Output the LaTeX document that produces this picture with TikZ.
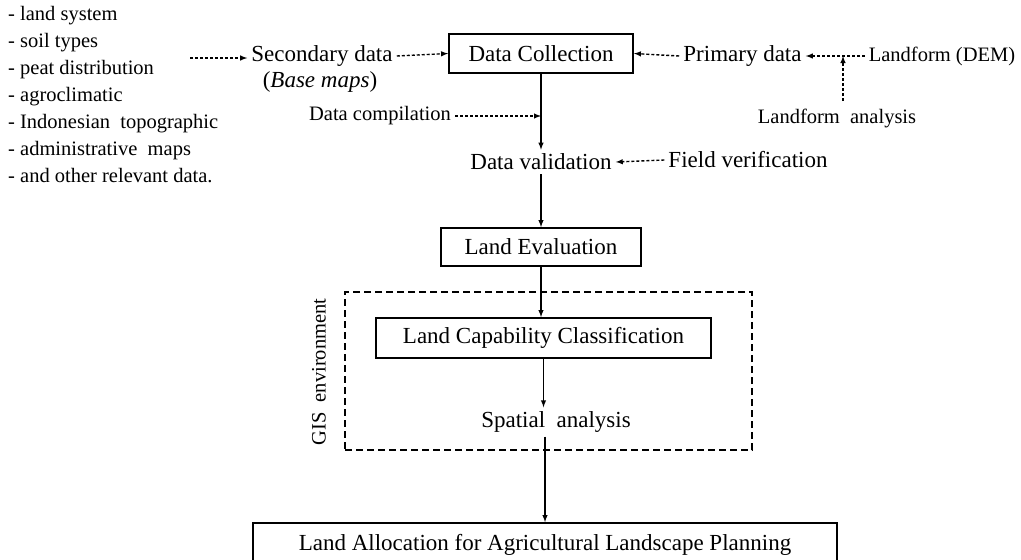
\documentclass[tikz,border=0pt]{standalone}
\usepackage{fontspec}
\setmainfont{Liberation Serif}
\usetikzlibrary{positioning}

\newcommand{\mainsize}{\fontsize{23}{27}\selectfont}
\newcommand{\smallsize}{\fontsize{20.5}{27}\selectfont}

\begin{document}
\begin{tikzpicture}[x=1pt,y=-1pt,
	box/.style={draw,line width=1.8pt,inner sep=0pt,font=\mainsize},
	txt/.style={inner sep=4pt,font=\mainsize},
	stxt/.style={inner sep=4pt,font=\smallsize},
	dasharrow/.style={line width=1.4pt,dash pattern=on 3pt off 2pt,-latex},
	solidarrow/.style={line width=1.4pt,-latex}]
	\useasboundingbox (0,0) rectangle (1021,560);

	% input data
	\node[stxt,align=left,anchor=north west,inner sep=0pt] (list) at (8,6)
		{- land system\\- soil types\\- peat distribution\\- agroclimatic\\- Indonesian\ \ topographic\\- administrative\ \ maps\\- and other relevant data.};
	\coordinate (lstart) at (190,58);

	\node[txt] (sec) at (322,56) {Secondary data};
	\node[txt] (base) at (320,82) {(\textit{Base maps})};

	\node[box,minimum width=184,minimum height=39] (coll) at (541,53.5) {Data Collection};

	\node[txt] (prim) at (742.5,56) {Primary data};
	\node[stxt] (dem) at (942,56) {Landform (DEM)};
	\node[stxt] (lfa) at (837,118) {Landform\ \ analysis};
	\coordinate (lfatop) at (843,101);

	\draw[dasharrow] (lstart) -- (lstart -| sec.west);
	\draw[dasharrow] (sec.east) -- (coll.west);
	\draw[dasharrow] (prim.west) -- (coll.east);
	\draw[dasharrow] (dem.west) -- (prim.east);
	\draw[dasharrow] (lfatop) -- (lfatop |- prim.east);

	% validation
	\node[stxt] (comp) at (380,116) {Data compilation};
	\node[txt] (val) at (541,162) {Data validation};
	\node[txt] (fv) at (748,160) {Field verification};

	\draw[solidarrow] (coll.south) -- (val.north);
	\draw[dasharrow] (comp.east) -- (comp.east -| coll.south);
	\draw[dasharrow] (fv.west) -- (val.east);

	% evaluation
	\node[box,minimum width=200,minimum height=38] (evalbox) at (541,247) {Land Evaluation};
	\draw[solidarrow] (val.south) -- (evalbox.north);

	% GIS environment
	\node[draw,line width=1.6pt,dash pattern=on 7pt off 4pt,minimum width=407,minimum height=158] (gis) at (548.5,371) {};
	\node[stxt,rotate=90] (gislabel) at (319,372) {GIS\ \ environment};

	\node[box,minimum width=335,minimum height=40] (lcc) at (543.5,338) {Land Capability Classification};
	\node[txt] (spa) at (556,422) {Spatial\ \ analysis};

	\draw[solidarrow] (evalbox.south) -- (evalbox.south |- lcc.north);
	\draw[solidarrow] (lcc.south) -- (lcc.south |- spa.north);

	% result
	\node[box,minimum width=584,minimum height=44] (alloc) at (545,545) {Land Allocation for Agricultural Landscape Planning};
	\draw[solidarrow] (spa.south -| alloc.north) -- (alloc.north);

\end{tikzpicture}
\end{document}
